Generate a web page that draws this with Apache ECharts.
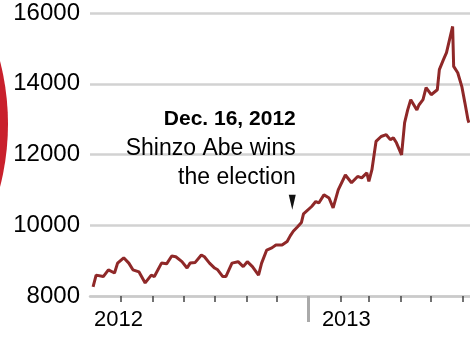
<!DOCTYPE html>
<html>
<head>
<meta charset="utf-8">
<style>
  html, body { margin: 0; padding: 0; background: #fff; }
  #chart { width: 470px; height: 337px; }
</style>
<script src="https://cdn.jsdelivr.net/npm/echarts@6/dist/echarts.min.js"></script>
</head>
<body>
<div id="chart"></div>
<script>
// Nikkei 225, Jun 2012 - Jun 2013
var dates = [
  '2012-06-04','2012-06-07','2012-06-14','2012-06-19','2012-06-25','2012-06-28',
  '2012-07-04','2012-07-09','2012-07-13','2012-07-19','2012-07-25','2012-07-31',
  '2012-08-03','2012-08-10','2012-08-15','2012-08-20','2012-08-24','2012-08-30',
  '2012-09-04','2012-09-07','2012-09-12','2012-09-18','2012-09-21','2012-09-26',
  '2012-10-01','2012-10-04','2012-10-09','2012-10-12','2012-10-18','2012-10-24','2012-10-29',
  '2012-11-02','2012-11-07','2012-11-13','2012-11-16','2012-11-21','2012-11-26','2012-11-30',
  '2012-12-06','2012-12-11','2012-12-14','2012-12-17','2012-12-21','2012-12-25','2012-12-27',
  '2013-01-04','2013-01-08','2013-01-11','2013-01-16','2013-01-21','2013-01-25','2013-01-30',
  '2013-02-06','2013-02-12','2013-02-18','2013-02-22','2013-02-27',
  '2013-03-01','2013-03-04','2013-03-08','2013-03-13','2013-03-18','2013-03-22','2013-03-25','2013-03-28',
  '2013-04-02','2013-04-05','2013-04-08','2013-04-11','2013-04-17','2013-04-19','2013-04-23','2013-04-26',
  '2013-05-01','2013-05-07','2013-05-09','2013-05-13','2013-05-16','2013-05-22','2013-05-23','2013-05-27','2013-05-31',
  '2013-06-03','2013-06-06','2013-06-07'
];
var closes = [
  8260, 8590, 8550, 8740, 8650, 8930,
  9080, 8930, 8740, 8680, 8370, 8590,
  8550, 8930, 8910, 9130, 9110, 8970,
  8790, 8930, 8950, 9160, 9110, 8930,
  8790, 8740, 8550, 8550, 8930, 8970, 8830,
  8970, 8830, 8590, 8930, 9300, 9360, 9440,
  9440, 9540, 9700, 9830, 9950, 10080, 10320,
  10530, 10670, 10630, 10860, 10770, 10490, 11000,
  11420, 11200, 11380, 11340, 11480,
  11240, 11570, 12370, 12510, 12560, 12420, 12470, 12330,
  11990, 12900, 13260, 13550, 13260, 13400, 13550, 13890,
  13690, 13830, 14400, 14680, 14880, 15620, 14490, 14310, 13920,
  13460, 12980, 12900
];
var monthTicks = ['2012-07-01','2012-08-01','2012-09-01','2012-10-01','2012-11-01','2012-12-01',
  '2013-02-01','2013-03-01','2013-04-01','2013-05-01','2013-06-01'];
var yearTicks = ['2013-01-01'];
var yearLabels = ['2012-06-05', '2013-01-14'];
var startDay = '2012-06-01', endDay = '2013-06-08';
var electionDay = '2012-12-16';
var noteLevel = 10650;

function ts(d) { return Date.parse(d + 'T00:00:00Z'); }

var font = 'Liberation Sans, Arial, sans-serif';
var chart = echarts.init(document.getElementById('chart'));

var option = {
  animation: false,
  grid: { left: 90, right: 0, top: 13, bottom: 41 },
  graphic: [
    { type: 'circle', shape: { cx: -244, cy: 124, r: 252 }, style: { fill: '#c9202c' }, z: 0 }
  ],
  xAxis: [
    {
      type: 'value',
      min: ts(startDay),
      max: ts(endDay),
      axisLine: { lineStyle: { color: '#cacaca', width: 2.5 } },
      axisTick: { customValues: monthTicks.map(ts), length: 6, lineStyle: { color: '#444', width: 1.5 } },
      axisLabel: { show: false },
      splitLine: { show: false }
    },
    {
      type: 'value',
      position: 'bottom',
      min: ts(startDay),
      max: ts(endDay),
      axisLine: { show: false },
      axisTick: { customValues: yearTicks.map(ts), length: 26, lineStyle: { color: '#aaa', width: 3 } },
      axisLabel: {
        customValues: yearLabels.map(ts),
        align: 'left',
        margin: 13,
        color: '#000',
        fontFamily: font,
        fontSize: 22,
        formatter: function (v) { return String(new Date(v).getUTCFullYear()); }
      },
      splitLine: { show: false }
    }
  ],
  yAxis: {
    type: 'value',
    min: 8000,
    max: 16000,
    interval: 2000,
    axisLine: { show: false },
    axisTick: { show: false },
    axisLabel: {
      margin: 10, color: '#000', fontFamily: font, fontSize: 24,
      formatter: function (v) { return String(v); }
    },
    splitLine: { lineStyle: { color: '#d2d2d2', width: 2.5 } }
  },
  series: [
    {
      type: 'line',
      showSymbol: false,
      data: dates.map(function (d, i) { return [ts(d), closes[i]]; }),
      lineStyle: { color: '#8f2828', width: 3 },
      itemStyle: { color: '#8f2828' },
      z: 3,
      markPoint: {
        silent: true,
        symbol: 'triangle',
        symbolSize: [7, 15],
        symbolRotate: 180,
        itemStyle: { color: '#111' },
        data: [{ coord: [ts(electionDay), noteLevel] }],
        label: {
          show: true,
          position: [7, -3],
          align: 'right',
          verticalAlign: 'bottom',
          formatter: '{a|Dec. 16, 2012}\n{b|Shinzo Abe wins}\n{b|the election}',
          rich: {
            a: { fontFamily: font, fontWeight: 'bold', fontSize: 21, color: '#000', align: 'right', lineHeight: 29 },
            b: { fontFamily: font, fontSize: 23, color: '#000', align: 'right', lineHeight: 29 }
          }
        }
      }
    }
  ]
};
chart.setOption(option);
</script>
</body>
</html>
